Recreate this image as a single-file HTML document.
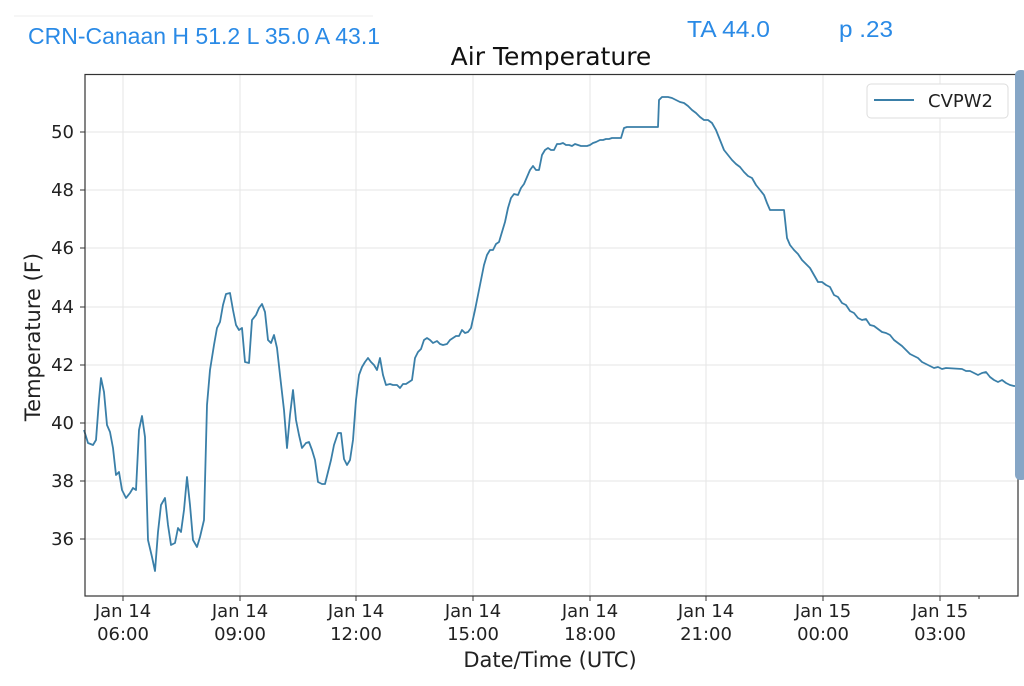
<!DOCTYPE html>
<html><head><meta charset="utf-8"><style>
body{margin:0;background:#fff;width:1024px;height:682px;overflow:hidden;font-family:"DejaVu Sans","Liberation Sans",sans-serif}
</style></head><body>
<svg width="1024" height="682" xmlns="http://www.w3.org/2000/svg">
<line x1="14" y1="16" x2="373" y2="16" stroke="#eee" stroke-width="1"/>
<g font-family="Liberation Sans, sans-serif" font-size="23" fill="#2a8ae6">
<text x="28" y="44" textLength="352" lengthAdjust="spacingAndGlyphs">CRN-Canaan H 51.2 L 35.0 A 43.1</text>
<text x="687" y="37" textLength="83" lengthAdjust="spacingAndGlyphs">TA 44.0</text>
<text x="839" y="37" textLength="54" lengthAdjust="spacingAndGlyphs">p .23</text>
</g>
<text x="551" y="65" text-anchor="middle" font-size="25" fill="#111">Air Temperature</text>
<g stroke="#e6e6e6" stroke-width="1">
<line x1="123" y1="75" x2="123" y2="596"/><line x1="240" y1="75" x2="240" y2="596"/><line x1="356" y1="75" x2="356" y2="596"/><line x1="473" y1="75" x2="473" y2="596"/><line x1="590" y1="75" x2="590" y2="596"/><line x1="706" y1="75" x2="706" y2="596"/><line x1="823" y1="75" x2="823" y2="596"/><line x1="940" y1="75" x2="940" y2="596"/>
<line x1="85" y1="539" x2="1018" y2="539"/><line x1="85" y1="481" x2="1018" y2="481"/><line x1="85" y1="423" x2="1018" y2="423"/><line x1="85" y1="365" x2="1018" y2="365"/><line x1="85" y1="307" x2="1018" y2="307"/><line x1="85" y1="248" x2="1018" y2="248"/><line x1="85" y1="190" x2="1018" y2="190"/><line x1="85" y1="132" x2="1018" y2="132"/>
</g>
<polyline fill="none" stroke="#3a7fa8" stroke-width="1.8" stroke-linejoin="round" points="84,430 88,443 93,445 96,440 99,400 101,378 104,392 107,425 110,432 113,448 116,475 119,472 122,490 126,498 130,493 133,488 136,490 139,430 142,416 145,437 148,540 152,557 155,571 158,532 161,505 165,498 168,525 171,545 175,543 178,528 181,532 184,510 187,477 190,505 193,540 197,547 200,537 204,520 207,405 210,370 214,345 217,328 220,322 223,305 226,294 230,293 233,310 236,325 239,330 242,328 245,362 249,363 252,320 256,315 259,308 262,304 265,312 268,340 271,343 274,335 277,348 280,375 284,410 287,448 290,415 293,390 296,420 299,435 302,448 306,443 309,442 312,450 315,460 318,482 322,484 325,484 328,472 331,460 334,445 338,433 341,433 344,459 347,465 350,460 353,440 356,400 359,375 362,367 365,362 368,358 371,362 374,365 377,370 380,358 383,375 386,385 390,384 393,385 397,385 400,388 403,384 406,384 409,382 412,380 415,358 418,352 421,349 424,340 427,338 430,340 433,343 437,341 440,344 443,345 447,344 450,340 453,338 456,336 459,336 462,330 465,333 468,332 471,328 475,310 478,295 481,280 484,265 487,255 490,250 493,250 496,244 499,242 502,232 505,222 508,208 511,198 514,194 518,195 521,188 524,184 527,177 530,170 533,166 536,170 539,170 542,155 545,150 548,148 551,150 554,150 557,144 560,144 563,143 566,145 569,145 572,146 575,144 578,145 581,146 584,146 587,146 590,145 593,143 596,142 600,140 603,140 606,139 609,139 612,138 615,138 618,138 621,138 624,128 627,127 658,127 659,100 662,97 668,97 672,98 676,100 680,102 684,103 688,106 692,110 696,113 700,117 704,120 708,120 712,123 716,130 720,140 724,150 728,155 732,160 736,164 740,167 744,172 748,176 752,178 756,185 760,190 764,195 767,203 770,210 784,210 787,238 790,245 794,250 798,254 802,260 806,264 810,268 814,275 818,282 822,282 826,285 830,287 834,295 838,297 842,303 846,305 850,311 854,313 858,318 862,320 866,319 870,325 874,326 878,329 882,332 886,333 890,335 894,340 898,343 902,346 906,350 910,354 914,356 918,358 922,362 926,364 930,366 934,368 938,367 942,369 946,368 962,369 966,371 970,371 974,373 978,375 982,373 986,372 990,377 994,380 998,382 1002,380 1006,383 1010,385 1014,386 1018,386"/>
<rect x="85" y="74.5" width="933" height="521.5" fill="none" stroke="#333" stroke-width="1.2"/>
<rect x="867" y="84" width="141" height="34" rx="4" fill="#fff" stroke="#ddd"/>
<line x1="874" y1="100" x2="914" y2="100" stroke="#3a7fa8" stroke-width="2"/>
<text x="928" y="107" font-size="18" fill="#222">CVPW2</text>
<rect x="1015" y="70" width="12" height="410" rx="5" fill="#86a6c6"/>
<g font-size="18" fill="#222" text-anchor="end">
<text x="74" y="545">36</text><text x="74" y="487">38</text><text x="74" y="429">40</text><text x="74" y="371">42</text><text x="74" y="313">44</text><text x="74" y="254">46</text><text x="74" y="196">48</text><text x="74" y="138">50</text>
</g>
<g stroke="#333"><line x1="80" y1="539" x2="85" y2="539"/><line x1="80" y1="481" x2="85" y2="481"/><line x1="80" y1="423" x2="85" y2="423"/><line x1="80" y1="365" x2="85" y2="365"/><line x1="80" y1="307" x2="85" y2="307"/><line x1="80" y1="248" x2="85" y2="248"/><line x1="80" y1="190" x2="85" y2="190"/><line x1="80" y1="132" x2="85" y2="132"/>
<line x1="123" y1="596" x2="123" y2="601"/><line x1="240" y1="596" x2="240" y2="601"/><line x1="356" y1="596" x2="356" y2="601"/><line x1="473" y1="596" x2="473" y2="601"/><line x1="590" y1="596" x2="590" y2="601"/><line x1="706" y1="596" x2="706" y2="601"/><line x1="823" y1="596" x2="823" y2="601"/><line x1="940" y1="596" x2="940" y2="601"/><line x1="979" y1="596" x2="979" y2="599"/></g>
<g font-size="18" fill="#222" text-anchor="middle">
<text x="123" y="617">Jan 14</text><text x="123" y="640">06:00</text>
<text x="240" y="617">Jan 14</text><text x="240" y="640">09:00</text>
<text x="356" y="617">Jan 14</text><text x="356" y="640">12:00</text>
<text x="473" y="617">Jan 14</text><text x="473" y="640">15:00</text>
<text x="590" y="617">Jan 14</text><text x="590" y="640">18:00</text>
<text x="706" y="617">Jan 14</text><text x="706" y="640">21:00</text>
<text x="823" y="617">Jan 15</text><text x="823" y="640">00:00</text>
<text x="940" y="617">Jan 15</text><text x="940" y="640">03:00</text>
</g>
<text x="550" y="667" text-anchor="middle" font-size="21" fill="#222">Date/Time (UTC)</text>
<text transform="translate(40,337) rotate(-90)" text-anchor="middle" font-size="21" fill="#222">Temperature (F)</text>
</svg>
</body></html>
